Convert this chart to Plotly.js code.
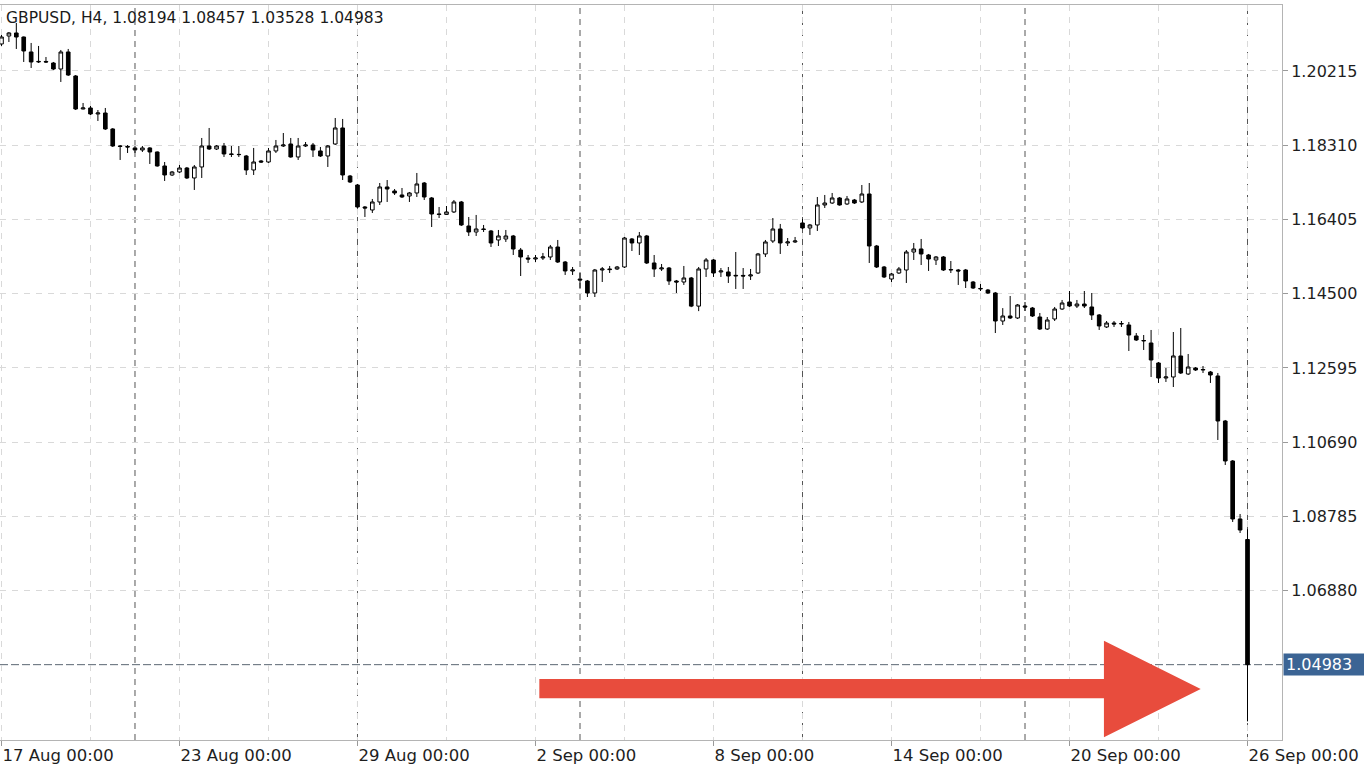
<!DOCTYPE html>
<html>
<head>
<meta charset="utf-8">
<script src="https://cdn.plot.ly/plotly-3.0.1.min.js"></script>
<style>
  html, body { margin: 0; padding: 0; background: #ffffff; }
  #chart { width: 1364px; height: 768px; }
</style>
</head>
<body>
<div id="chart"></div>
<script>
// GBPUSD H4 candles, 17 Aug 00:00 .. 26 Sep 00:00 (one bar per 4 hours, weekends skipped)
const openPrices = [
  1.20908,1.21113,1.21190,1.21087,1.20703,1.20446,1.20460,1.20420,1.20266,1.20703,
  1.20087,1.19240,1.19266,1.19112,1.19137,1.18727,1.18291,1.18280,1.18240,1.18188,
  1.18240,1.18137,1.17778,1.17547,1.17624,1.17726,1.17470,1.17752,1.18291,1.18214,
  1.18291,1.18086,1.18075,1.18034,1.17675,1.17906,1.17880,1.18163,1.18291,1.18342,
  1.18009,1.18291,1.18316,1.18163,1.18034,1.18342,1.18753,1.17521,1.17290,1.16726,
  1.16649,1.16854,1.17239,1.17136,1.17034,1.17008,1.17085,1.17341,1.16957,1.16546,
  1.16535,1.16598,1.16854,1.16238,1.16084,1.16161,1.16110,1.15879,1.15905,1.15982,
  1.15622,1.15417,1.15391,1.15417,1.15443,1.15699,1.15314,1.15084,1.14878,1.14827,
  1.14519,1.15109,1.15135,1.15135,1.15186,1.15905,1.15802,1.15982,1.15289,1.15135,
  1.15160,1.14827,1.14801,1.14904,1.14182,1.15135,1.15366,1.15058,1.15058,1.14955,
  1.14970,1.14955,1.15032,1.15520,1.15853,1.16161,1.15802,1.15828,1.16315,1.16187,
  1.16264,1.16777,1.16828,1.16957,1.16803,1.16905,1.16854,1.17059,1.15725,1.15186,
  1.14878,1.15032,1.15109,1.15571,1.15648,1.15494,1.15366,1.15443,1.15109,1.15109,
  1.15109,1.14801,1.14622,1.14596,1.14519,1.13800,1.13929,1.13878,1.14185,1.14134,
  1.13903,1.13595,1.13852,1.14108,1.14288,1.14185,1.14236,1.14160,1.13955,1.13647,
  1.13749,1.13724,1.13698,1.13416,1.13288,1.13236,1.12723,1.12338,1.12364,1.12903,
  1.12441,1.12595,1.12544,1.12492,1.12390,1.11235,1.10209,1.08721,1.08194
];
const highPrices = [
  1.21139,1.21215,1.21447,1.21100,1.20934,1.20857,1.20574,1.20446,1.20754,1.20780,
  1.20112,1.19394,1.19317,1.19214,1.19266,1.18750,1.18316,1.18316,1.18291,1.18291,
  1.18260,1.18150,1.17880,1.17650,1.17803,1.17752,1.17803,1.18496,1.18753,1.18316,
  1.18368,1.18291,1.18291,1.18060,1.18240,1.17932,1.18240,1.18445,1.18624,1.18496,
  1.18496,1.18393,1.18368,1.18265,1.18316,1.19009,1.18984,1.17547,1.17316,1.16751,
  1.16931,1.17341,1.17418,1.17187,1.17213,1.17111,1.17598,1.17367,1.16982,1.16726,
  1.16751,1.16905,1.16880,1.16469,1.16521,1.16264,1.16136,1.16136,1.16136,1.16008,
  1.15674,1.15494,1.15494,1.15546,1.15751,1.15879,1.15340,1.15186,1.15032,1.14853,
  1.15135,1.15186,1.15212,1.15212,1.15956,1.15930,1.16084,1.16008,1.15494,1.15263,
  1.15186,1.14853,1.15212,1.14930,1.15186,1.15417,1.15391,1.15160,1.15186,1.15571,
  1.15160,1.15135,1.15546,1.15879,1.16443,1.16290,1.15930,1.15956,1.16418,1.16290,
  1.16982,1.17034,1.17085,1.16982,1.17008,1.16931,1.17290,1.17341,1.15751,1.15212,
  1.15032,1.15186,1.15622,1.15802,1.15905,1.15520,1.15468,1.15468,1.15340,1.15135,
  1.15135,1.14827,1.14750,1.14622,1.14545,1.14131,1.14442,1.14236,1.14288,1.14160,
  1.14006,1.13903,1.14160,1.14340,1.14570,1.14340,1.14570,1.14519,1.13980,1.13800,
  1.13800,1.13800,1.13775,1.13492,1.13441,1.13570,1.12749,1.12595,1.13518,1.13621,
  1.12954,1.12620,1.12646,1.12518,1.12467,1.11261,1.10234,1.08849,1.08457
];
const lowPrices = [
  1.20857,1.20959,1.20780,1.20446,1.20292,1.20420,1.20420,1.20241,1.19933,1.20087,
  1.19214,1.19230,1.19086,1.18932,1.18701,1.18265,1.17932,1.18111,1.18111,1.18137,
  1.17829,1.17760,1.17393,1.17520,1.17598,1.17444,1.17162,1.17470,1.18188,1.18188,
  1.18009,1.18009,1.18009,1.17547,1.17547,1.17855,1.17855,1.18111,1.18265,1.17990,
  1.17932,1.18265,1.18009,1.18009,1.17752,1.18316,1.17418,1.17341,1.16700,1.16469,
  1.16572,1.16777,1.16854,1.17034,1.16957,1.16854,1.16982,1.16905,1.16212,1.16443,
  1.16521,1.16572,1.16238,1.15982,1.15982,1.16084,1.15699,1.15725,1.15828,1.15494,
  1.14955,1.15289,1.15314,1.15366,1.15366,1.15289,1.14981,1.14981,1.14647,1.14416,
  1.14416,1.14801,1.15032,1.15109,1.15160,1.15596,1.15494,1.15263,1.14930,1.15084,
  1.14725,1.14519,1.14725,1.14156,1.14054,1.14930,1.14930,1.14930,1.14776,1.14622,
  1.14622,1.14853,1.15007,1.15443,1.15802,1.15520,1.15725,1.15802,1.16161,1.16008,
  1.16110,1.16700,1.16803,1.16760,1.16777,1.16803,1.16828,1.15289,1.15160,1.14904,
  1.14801,1.15007,1.14776,1.15366,1.15237,1.15084,1.15237,1.15084,1.15032,1.14725,
  1.14647,1.14622,1.14570,1.14493,1.13492,1.13698,1.13852,1.13852,1.14057,1.13903,
  1.13570,1.13570,1.13800,1.14083,1.14160,1.14134,1.14134,1.13826,1.13570,1.13621,
  1.13647,1.13647,1.13031,1.13288,1.13057,1.12364,1.12210,1.12236,1.12107,1.12441,
  1.12415,1.12518,1.12467,1.12210,1.10748,1.10106,1.08644,1.08361,1.03528
];
const closePrices = [
  1.21087,1.21190,1.21087,1.20728,1.20446,1.20460,1.20446,1.20266,1.20703,1.20112,
  1.19240,1.19266,1.19112,1.19137,1.18727,1.18291,1.18280,1.18265,1.18188,1.18240,
  1.18137,1.17778,1.17547,1.17624,1.17726,1.17470,1.17752,1.18291,1.18214,1.18291,
  1.18086,1.18075,1.18070,1.17675,1.17880,1.17880,1.18163,1.18291,1.18316,1.18009,
  1.18291,1.18316,1.18188,1.18034,1.18291,1.18753,1.17547,1.17367,1.16726,1.16700,
  1.16854,1.17239,1.17187,1.17085,1.16982,1.17085,1.17316,1.16982,1.16546,1.16535,
  1.16598,1.16854,1.16264,1.16084,1.16161,1.16150,1.15802,1.15982,1.15982,1.15648,
  1.15443,1.15391,1.15417,1.15443,1.15699,1.15314,1.15084,1.15109,1.14853,1.14519,
  1.15109,1.15135,1.15120,1.15186,1.15930,1.15802,1.15982,1.15289,1.15135,1.15160,
  1.14827,1.14801,1.14904,1.14182,1.15135,1.15366,1.15032,1.15084,1.14955,1.14970,
  1.14955,1.14981,1.15520,1.15828,1.16161,1.15802,1.15828,1.15853,1.16187,1.16264,
  1.16777,1.16828,1.16957,1.16777,1.16931,1.16828,1.17059,1.15725,1.15186,1.14930,
  1.15007,1.15135,1.15571,1.15648,1.15520,1.15391,1.15443,1.15109,1.15120,1.15084,
  1.14827,1.14647,1.14635,1.14519,1.13800,1.13929,1.13878,1.14211,1.14160,1.13929,
  1.13595,1.13826,1.14108,1.14262,1.14185,1.14236,1.14185,1.13955,1.13673,1.13749,
  1.13724,1.13735,1.13441,1.13313,1.13300,1.12800,1.12338,1.12364,1.12903,1.12467,
  1.12620,1.12544,1.12555,1.12415,1.11235,1.10209,1.08721,1.08438,1.04983
];

// Time axis: bar positions of the labelled dates, and of the week starts (Mondays 00:00)
const dateTickIdx   = [0, 24, 48, 72, 96, 120, 144, 168];
const dateTickText  = ["17 Aug 00:00", "23 Aug 00:00", "29 Aug 00:00", "2 Sep 00:00",
                       "8 Sep 00:00", "14 Sep 00:00", "20 Sep 00:00", "26 Sep 00:00"];
const weekStartIdx  = [18, 48, 78, 108, 138, 168];

// Price axis levels
const priceTicks = [1.20215, 1.18310, 1.16405, 1.14500, 1.12595, 1.10690, 1.08785, 1.06880];

const symbolName = "GBPUSD";
const timeframe  = "H4";

const barIdx = openPrices.map((_, i) => i);
const last = closePrices.length - 1;

const FONT = "DejaVu Sans";
const GRID = "#d9d9d9";

const trace = {
  type: "candlestick",
  x: barIdx,
  open: openPrices,
  high: highPrices,
  low: lowPrices,
  close: closePrices,
  whiskerwidth: 0,
  increasing: { line: { color: "#000000", width: 1 }, fillcolor: "#ffffff" },
  decreasing: { line: { color: "#000000", width: 1 }, fillcolor: "#000000" },
  hoverinfo: "skip",
  showlegend: false
};

const shapes = weekStartIdx.map(ix => ({
  type: "line", xref: "x", yref: "paper",
  x0: ix, x1: ix, y0: 0, y1: 1,
  line: { color: "#555555", width: 1, dash: "6px,5px" },
  layer: "below"
}));

// current price line
shapes.push({
  type: "line", xref: "paper", yref: "y",
  x0: 0, x1: 1, y0: closePrices[last], y1: closePrices[last],
  line: { color: "#5b6772", width: 1, dash: "8px,3px" },
  layer: "below"
});

// red arrow (drawn annotation, paper coordinates)
shapes.push({
  type: "path", xref: "paper", yref: "paper",
  path: "M0.4207,0.0830 L0.8611,0.0830 L0.8611,0.1351 L0.9366,0.0694 L0.8611,0.0037 L0.8611,0.0567 L0.4207,0.0567 Z",
  fillcolor: "#e84c3d",
  line: { width: 0 },
  layer: "above"
});

const o = openPrices[last], h = highPrices[last], l = lowPrices[last], c = closePrices[last];

const layout = {
  width: 1364,
  height: 768,
  autosize: false,
  margin: { l: 0, r: 82, t: 5, b: 28, pad: 0 },
  paper_bgcolor: "#ffffff",
  plot_bgcolor: "#ffffff",
  showlegend: false,
  dragmode: false,
  title: {
    text: symbolName + ", " + timeframe + ", " + o.toFixed(5) + " " + h.toFixed(5) + " " + l.toFixed(5) + " " + c.toFixed(5),
    xref: "container", yref: "container",
    x: 6 / 1364, xanchor: "left",
    y: 1 - 18 / 768, yanchor: "middle",
    font: { family: FONT, size: 15.5, color: "#1a1a1a" }
  },
  xaxis: {
    range: [-0.2, 172.65],
    rangeslider: { visible: false },
    tickmode: "array",
    tickvals: dateTickIdx,
    ticktext: dateTickText,
    ticklabelposition: "outside right",
    ticks: "outside",
    ticklen: 5,
    tickcolor: "#9a9a9a",
    tickfont: { family: FONT, size: 16.5, color: "#1e1e1e" },
    showgrid: true,
    gridcolor: GRID,
    griddash: "6px,6px",
    gridwidth: 1,
    minor: { tick0: 0, dtick: 12, showgrid: true, gridcolor: GRID, griddash: "6px,6px", ticks: "" },
    showline: true,
    linecolor: "#b4b4b4",
    mirror: true,
    zeroline: false,
    automargin: false,
    fixedrange: true
  },
  yaxis: {
    side: "right",
    range: [1.03050, 1.21908],
    tickmode: "array",
    tickvals: priceTicks,
    ticktext: priceTicks.map(v => v.toFixed(5)),
    ticks: "outside",
    ticklen: 5,
    tickcolor: "#9a9a9a",
    tickfont: { family: FONT, size: 16, color: "#1e1e1e" },
    showgrid: true,
    gridcolor: GRID,
    griddash: "6px,6px",
    showline: true,
    linecolor: "#b4b4b4",
    mirror: true,
    zeroline: false,
    automargin: false,
    fixedrange: true
  },
  shapes: shapes,
  annotations: [{
    xref: "paper", yref: "y",
    x: 1, y: closePrices[last],
    xanchor: "left", yanchor: "middle",
    xshift: 1,
    text: c.toFixed(5),
    showarrow: false,
    bgcolor: "#3b6494",
    borderpad: 2,
    width: 76,
    height: 17,
    align: "left",
    font: { family: FONT, size: 16, color: "#ffffff" }
  }]
};

Plotly.newPlot("chart", [trace], layout, { staticPlot: true, displayModeBar: false });
</script>
</body>
</html>
